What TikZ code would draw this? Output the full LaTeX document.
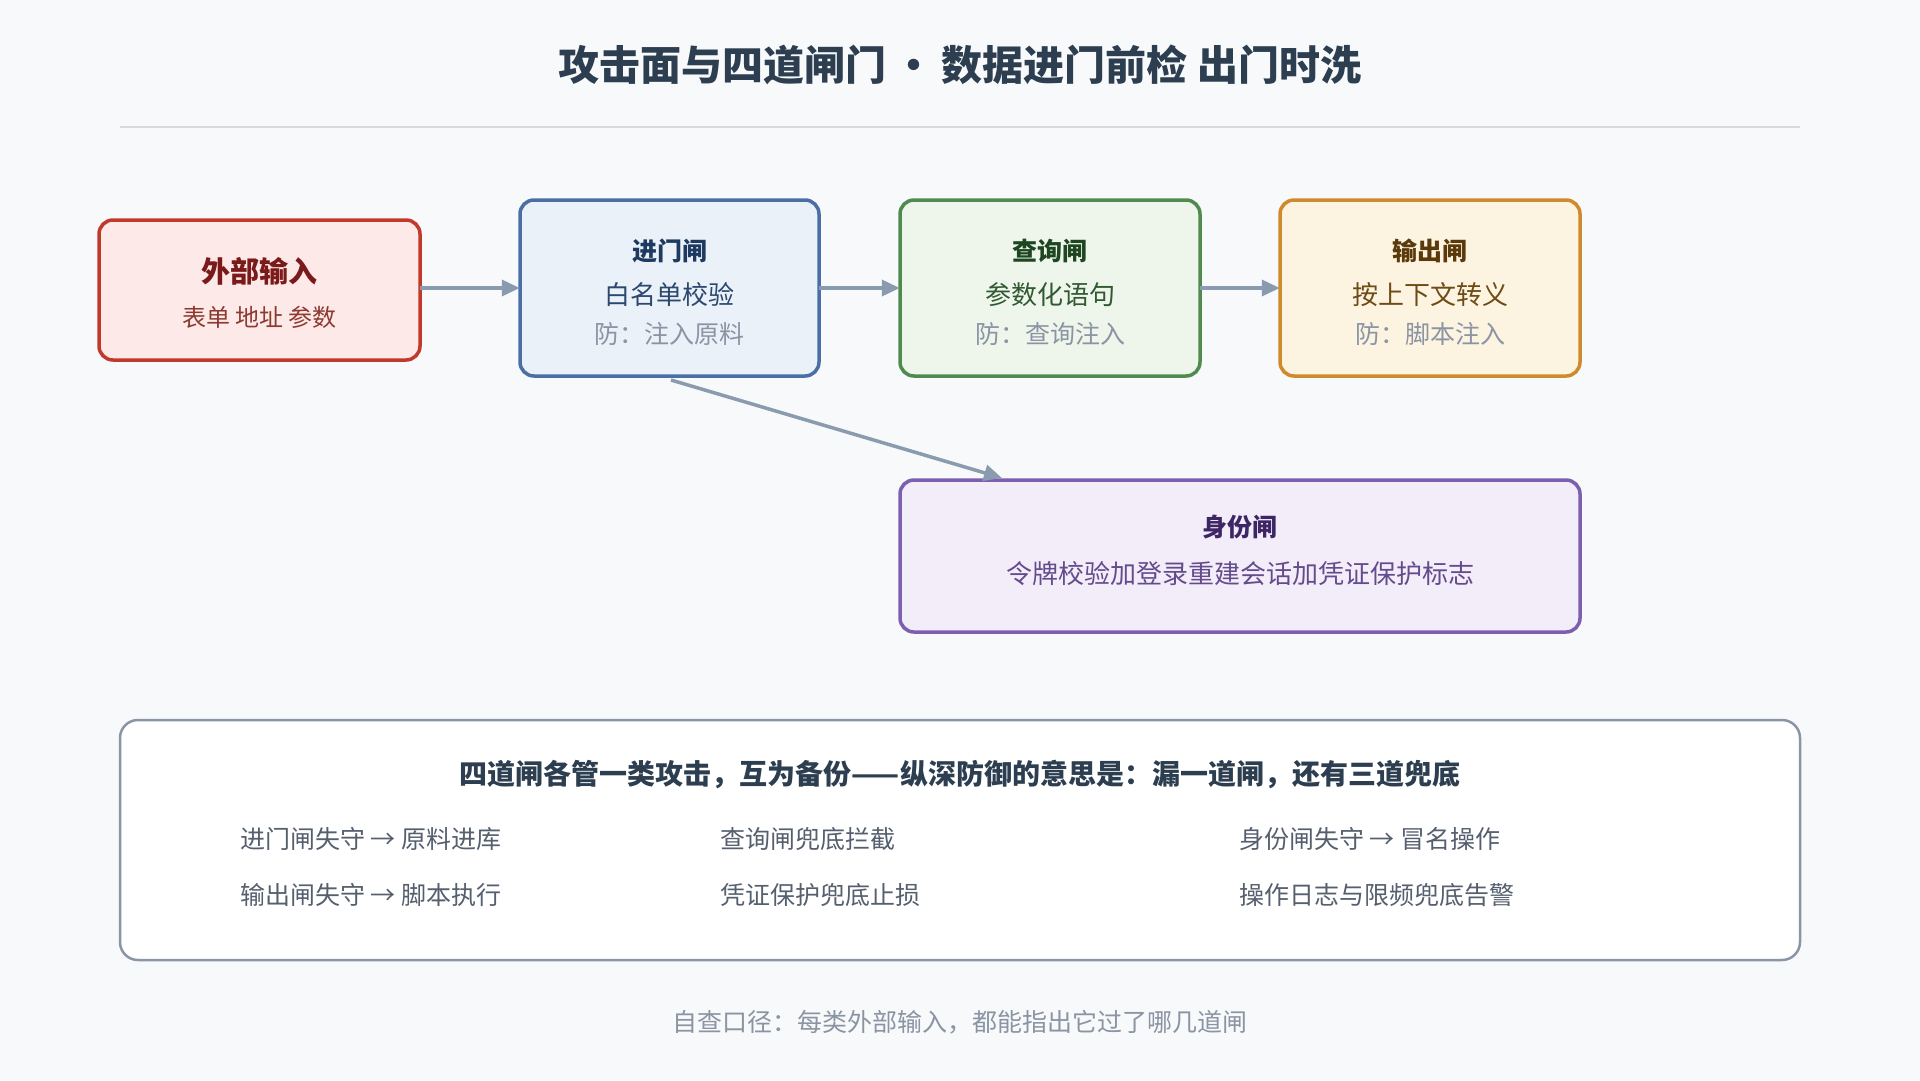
\documentclass[tikz,border=0pt]{standalone}
\usepackage{fontspec}
\setmainfont{Noto Sans CJK SC}
\usetikzlibrary{arrows.meta}
\definecolor{bg}{HTML}{F8F9FB}
\definecolor{arr}{HTML}{8A9BB0}
\definecolor{gr}{HTML}{8A94A3}
\definecolor{dk}{HTML}{2C3E50}
\definecolor{rB}{HTML}{C0392B}\definecolor{rF}{HTML}{FDE9E7}\definecolor{rT}{HTML}{7B1A1A}\definecolor{rS}{HTML}{8C3A30}
\definecolor{bB}{HTML}{4A6FA5}\definecolor{bF}{HTML}{EAF1F9}\definecolor{bT}{HTML}{1F3A60}\definecolor{bS}{HTML}{2C486E}
\definecolor{gB}{HTML}{4F8A4F}\definecolor{gF}{HTML}{EEF6EC}\definecolor{gT}{HTML}{1E4620}\definecolor{gS}{HTML}{325A32}
\definecolor{oB}{HTML}{D08A2E}\definecolor{oF}{HTML}{FDF3E1}\definecolor{oT}{HTML}{5A3A0A}\definecolor{oS}{HTML}{6E4B14}
\definecolor{pB}{HTML}{7D5FB0}\definecolor{pF}{HTML}{F3EDF9}\definecolor{pT}{HTML}{3D2566}\definecolor{pS}{HTML}{644B8C}
\definecolor{kB}{HTML}{8A96A5}\definecolor{kT}{HTML}{555F6E}
\begin{document}
\begin{tikzpicture}[x=1pt,y=-1pt,
 box/.style={draw=#1, line width=3.5pt, rounded corners=14pt},
 arrow/.style={draw=arr, line width=3.5pt, -{Triangle[length=18pt,width=16pt]}},
 fs/.style={font=\fontsize{#1}{#1}\selectfont},
 t/.style={anchor=center, inner sep=0pt}]
\fill[bg] (0,0) rectangle (1920,1080);
\useasboundingbox (0,0) rectangle (1920,1080);
\node[t,fs=41,text=dk] (title) at (960,65) {\bfseries 攻击面与四道闸门\,•\,数据进门前检 出门时洗};
\draw[draw=black!15,line width=1.5pt] (120,127) coordinate (l1) -- (1800,127) coordinate (l2);
% boxes
\draw[box=rB,fill=rF] (99,220) rectangle (420,360);
\node[t,minimum width=321pt,minimum height=136pt] (b1) at (259.5,288) {};
\node[t,fs=29,text=rT] at (259.5,271) {\bfseries 外部输入};
\node[t,fs=24,text=rS] at (259.5,317) {表单 地址 参数};

\draw[box=bB,fill=bF] (520,200) rectangle (819,376);
\node[t,minimum width=299pt,minimum height=176pt] (b2) at (669.5,288) {};
\node[t,fs=25,text=bT] at (669.5,251) {\bfseries 进门闸};
\node[t,fs=26,text=bS] at (669.5,295) {白名单校验};
\node[t,fs=25,text=gr] at (669.5,334) {防：注入原料};

\draw[box=gB,fill=gF] (900,200) rectangle (1200,376);
\node[t,minimum width=300pt,minimum height=176pt] (b3) at (1050,288) {};
\node[t,fs=25,text=gT] at (1050,251) {\bfseries 查询闸};
\node[t,fs=26,text=gS] at (1050,295) {参数化语句};
\node[t,fs=25,text=gr] at (1050,334) {防：查询注入};

\draw[box=oB,fill=oF] (1280,200) rectangle (1580,376);
\node[t,minimum width=300pt,minimum height=176pt] (b4) at (1430,288) {};
\node[t,fs=25,text=oT] at (1430,251) {\bfseries 输出闸};
\node[t,fs=26,text=oS] at (1430,295) {按上下文转义};
\node[t,fs=25,text=gr] at (1430,334) {防：脚本注入};

\draw[box=pB,fill=pF] (900,480) rectangle (1580,632);
\node[t,minimum width=680pt,minimum height=152pt] (b5) at (1240,556) {};
\node[t,fs=25,text=pT] at (1240,527) {\bfseries 身份闸};
\node[t,fs=26,text=pS] at (1240,574) {令牌校验加登录重建会话加凭证保护标志};

\coordinate (d1) at (671,380);
\coordinate (d2) at (1002,478);
\draw[arrow] (b1.east) -- (b2.west);
\draw[arrow] (b2.east) -- (b3.west);
\draw[arrow] (b3.east) -- (b4.west);
\draw[arrow] (d1) -- (d2);

% bottom box
\draw[draw=kB,line width=2.5pt,rounded corners=18pt,fill=white] (120,720) rectangle (1800,960);
\node[t,fs=28,text=dk] (h) at (960,774) {\bfseries 四道闸各管一类攻击，互为备份——纵深防御的意思是：漏一道闸，还有三道兜底};
\tikzset{r/.style={anchor=west,inner sep=0pt,fs=25,text=kT}}
\node[r] (r1) at (240,839) {进门闸失守 → 原料进库};
\node[r] (r2) at (720,839) {查询闸兜底拦截};
\node[r] (r3) at (1239,839) {身份闸失守 → 冒名操作};
\node[r] (r4) at (240,895) {输出闸失守 → 脚本执行};
\node[r] (r5) at (720,895) {凭证保护兜底止损};
\node[r] (r6) at (1239,895) {操作日志与限频兜底告警};
\node[t,fs=25,text=gr] (f) at (960,1022) {自查口径：每类外部输入，都能指出它过了哪几道闸};
\end{tikzpicture}
\end{document}
